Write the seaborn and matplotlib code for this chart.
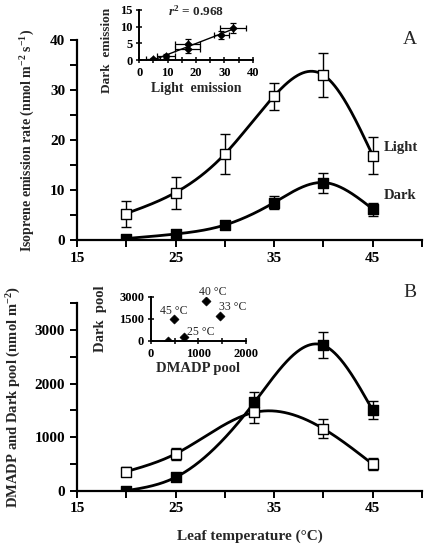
import matplotlib
matplotlib.use('Agg')
import matplotlib.pyplot as plt
import seaborn as sns
import numpy as np
import pandas as pd

# leaf temperatures
temp_a = [20, 25, 30, 35, 40, 45]
light_a = [5.3, 9.5, 17.2, 28.8, 33.0, 16.9]
light_a_err = [2.6, 3.2, 4.0, 2.7, 4.4, 3.7]
dark_a = [0.3, 1.2, 3.0, 7.5, 11.5, 6.2]
dark_a_err = [0.2, 0.3, 0.5, 1.3, 2.0, 1.3]

temp_b = [20, 25, 33, 40, 45]
dmadp_b = [356, 688, 1463, 1157, 495]
dmadp_b_err = [80, 110, 190, 180, 110]
darkpool_b = [0, 250, 1650, 2715, 1500]
darkpool_b_err = [20, 40, 200, 240, 170]

# inset A: dark vs light emission
ins_light = [4.9, 9.3, 17.1, 17.1, 28.9, 33.0]
ins_light_err = [2.4, 3.2, 4.4, 4.4, 2.6, 4.6]
ins_dark = [0.2, 1.2, 4.7, 3.3, 7.6, 9.5]
ins_dark_err = [0.3, 0.5, 1.5, 1.3, 1.2, 1.5]

# inset B labels
ins_b_labels = ['25 °C', '33 °C', '40 °C', '45 °C']


def smooth(x, y, n=300):
    # natural cubic spline through the points
    x = np.asarray(x, float)
    y = np.asarray(y, float)
    k = len(x)
    h = np.diff(x)
    A = np.zeros((k, k))
    r = np.zeros(k)
    A[0, 0] = A[-1, -1] = 1
    for i in range(1, k - 1):
        A[i, i - 1] = h[i - 1]
        A[i, i] = 2 * (h[i - 1] + h[i])
        A[i, i + 1] = h[i]
        r[i] = 6 * ((y[i + 1] - y[i]) / h[i] - (y[i] - y[i - 1]) / h[i - 1])
    M = np.linalg.solve(A, r)
    xs = np.linspace(x[0], x[-1], n)
    ys = np.empty_like(xs)
    for j, xv in enumerate(xs):
        i = min(np.searchsorted(x, xv, side='right') - 1, k - 2)
        t1 = x[i + 1] - xv
        t0 = xv - x[i]
        ys[j] = (M[i] * t1 ** 3 + M[i + 1] * t0 ** 3) / (6 * h[i]) \
            + (y[i] / h[i] - M[i] * h[i] / 6) * t1 \
            + (y[i + 1] / h[i] - M[i + 1] * h[i] / 6) * t0
    return pd.DataFrame({'x': xs, 'y': ys})


sns.set_theme(style='ticks')
plt.rcParams['font.family'] = ['Liberation Serif', 'DejaVu Serif']
plt.rcParams['font.weight'] = 'bold'
plt.rcParams['axes.labelweight'] = 'bold'
plt.rcParams['mathtext.fontset'] = 'custom'
plt.rcParams['mathtext.rm'] = 'Liberation Serif:bold'
plt.rcParams['mathtext.it'] = 'Liberation Serif:bold:italic'
plt.rcParams['mathtext.bf'] = 'Liberation Serif:bold'

fig = plt.figure(figsize=(4.27, 5.46), dpi=100)
ax_a = fig.add_axes([0.1803, 0.5604, 0.808, 0.3663])
ax_b = fig.add_axes([0.1803, 0.1013, 0.808, 0.3432])


def style_main(ax):
    for s in ['top', 'right']:
        ax.spines[s].set_visible(False)
    for s in ['left', 'bottom']:
        ax.spines[s].set_linewidth(1.6)
        ax.spines[s].set_color('black')
    ax.set_xlim(15, 50)
    ax.set_xticks([15, 25, 35, 45])
    ax.set_xticks([20, 30, 40, 50], minor=True)
    ax.tick_params(which='both', direction='out', length=5, width=1.4, colors='black',
                   labelsize=11)
    ax.set_facecolor('white')


def draw_series(ax, x, y, err, face):
    d = smooth(x, y)
    sns.lineplot(data=d, x='x', y='y', ax=ax, color='black', lw=2.0, zorder=2)
    ax.errorbar(x, y, yerr=err, fmt='none', ecolor='black', elinewidth=1.0,
                capsize=3.5, capthick=1.0, zorder=3)
    sns.scatterplot(x=x, y=y, ax=ax, marker='s', s=42, color=face,
                    edgecolor='black', linewidth=1.0, zorder=4)


# panel A
style_main(ax_a)
draw_series(ax_a, temp_a, light_a, light_a_err, 'white')
draw_series(ax_a, temp_a, dark_a, dark_a_err, 'black')
ax_a.set_ylim(0, 40)
ax_a.set_yticks([0, 10, 20, 30, 40])
ax_a.set_yticks([5, 15, 25, 35], minor=True)
ax_a.set_xlabel('')
ax_a.set_ylabel('Isoprene emission rate (nmol m$^{-2}$ s$^{-1}$)',
                fontsize=10, labelpad=9)
ax_a.text(46.1, 18.6, 'Light', fontsize=10.5, fontweight='bold', va='center')
ax_a.text(46.1, 9.0, 'Dark', fontsize=10.5, fontweight='bold', va='center')
fig.text(0.96, 0.927, 'A', fontsize=14, fontweight='normal', ha='center', va='center')

# panel B
style_main(ax_b)
draw_series(ax_b, temp_b, dmadp_b, dmadp_b_err, 'white')
draw_series(ax_b, temp_b, darkpool_b, darkpool_b_err, 'black')
ax_b.set_ylim(0, 3500)
ax_b.set_yticks([0, 1000, 2000, 3000])
ax_b.set_yticks([500, 1500, 2500, 3500], minor=True)
ax_b.set_xlabel('Leaf temperature (°C)', fontsize=11, labelpad=10)
ax_b.set_ylabel('DMADP and Dark pool (nmol m$^{-2}$)', fontsize=10.5, labelpad=8)
fig.text(0.96, 0.464, 'B', fontsize=14, fontweight='normal', ha='center', va='center')


def style_inset(ax):
    for s in ['top', 'right']:
        ax.spines[s].set_visible(False)
    for s in ['left', 'bottom']:
        ax.spines[s].set_linewidth(1.4)
        ax.spines[s].set_color('black')
    ax.tick_params(which='both', direction='inout', length=4, width=1.1, colors='black',
                   labelsize=9, pad=3)
    ax.patch.set_alpha(0)


# inset A
ia = fig.add_axes([0.3262, 0.8901, 0.2656, 0.0916])
style_inset(ia)
ia.errorbar(ins_light, ins_dark, xerr=ins_light_err, yerr=ins_dark_err, fmt='none',
            ecolor='black', elinewidth=0.9, capsize=2.5, capthick=0.9)
sns.scatterplot(x=ins_light, y=ins_dark, ax=ia, marker='D', s=16, color='black',
                edgecolor='black', zorder=4)
p = np.polyfit(ins_light, ins_dark, 1)
fit = pd.DataFrame({'x': [min(ins_light) - 1, max(ins_light)]})
fit['y'] = np.polyval(p, fit['x'])
sns.lineplot(data=fit, x='x', y='y', ax=ia, color='black', lw=1.0)
ia.set_xlim(0, 40)
ia.set_ylim(0, 15)
ia.set_xticks([0, 10, 20, 30, 40])
ia.set_xticks([5, 15, 25, 35], minor=True)
ia.set_yticks([0, 5, 10, 15])
ia.set_xlabel('Light  emission', fontsize=10, labelpad=2)
ia.set_ylabel('Dark  emission', fontsize=9.5)
ia.yaxis.set_label_coords(-0.23, 0.2)
ia.text(10.2, 14.5, '$r^{2}$ = 0.968', fontsize=9.5,
        fontweight='bold', va='center')

# inset B
ib = fig.add_axes([0.3536, 0.376, 0.2218, 0.0806])
style_inset(ib)
sns.scatterplot(x=dmadp_b, y=darkpool_b, ax=ib, marker='D', s=22, color='black',
                edgecolor='black', zorder=4)
ib.set_xlim(0, 2000)
ib.set_ylim(0, 3000)
ib.set_xticks([0, 1000, 2000])
ib.set_xticks([500, 1500], minor=True)
ib.set_yticks([0, 1500, 3000])
ib.set_xlabel('DMADP pool', fontsize=10.5, labelpad=2)
ib.set_ylabel('Dark  pool', fontsize=10.5)
ib.yaxis.set_label_coords(-0.46, 0.5)
lab_pos = {'25 °C': (dmadp_b[1] + 80, darkpool_b[1] + 350, 'left'),
           '33 °C': (dmadp_b[2] - 20, darkpool_b[2] + 650, 'left'),
           '40 °C': (dmadp_b[3] - 150, darkpool_b[3] + 620, 'left'),
           '45 °C': (dmadp_b[4] - 300, darkpool_b[4] + 550, 'left')}
for lab in ins_b_labels:
    x, y, ha = lab_pos[lab]
    ib.text(x, y, lab, fontsize=8.5, fontweight='normal', ha=ha, va='center')

fig.savefig('out.png', dpi=100, facecolor='white')
